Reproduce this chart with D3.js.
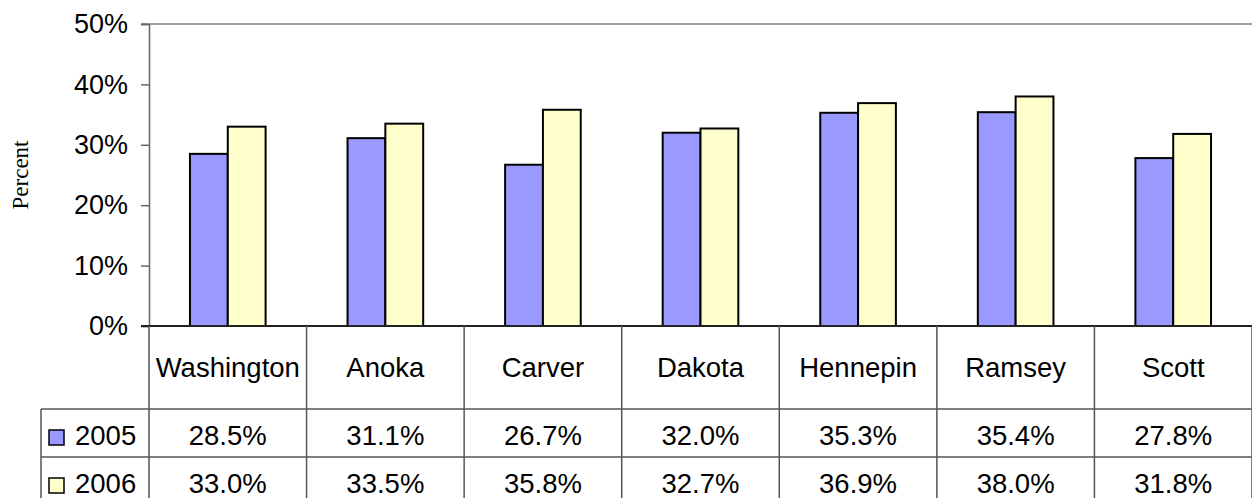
<!DOCTYPE html>
<html>
<head>
<meta charset="utf-8">
<script src="https://cdn.jsdelivr.net/npm/d3@7"></script>
<style>
  html, body { margin: 0; padding: 0; background: #fff; }
  svg { display: block; }
  text { font-family: "Liberation Sans", Arial, sans-serif; fill: #000; }
</style>
</head>
<body>
<div id="chart"></div>
<script>
// data
var categories = ['Washington', 'Anoka', 'Carver', 'Dakota', 'Hennepin', 'Ramsey', 'Scott'];
var seriesNames = ['2005', '2006'];
var values2005 = [28.5, 31.1, 26.7, 32.0, 35.3, 35.4, 27.8];
var values2006 = [33.0, 33.5, 35.8, 32.7, 36.9, 38.0, 31.8];
var yTicks = [0, 10, 20, 30, 40, 50];
var colors = ['#9999ff', '#ffffcc'];

var width = 1252,
  height = 498;
var plot = {left: 149, right: 1252, top: 24, bottom: 326};
var rowCat = 409, row1 = 457, legendLeft = 41;

var svg = d3
  .select('#chart')
  .append('svg')
  .attr('width', width)
  .attr('height', height);

var x = d3.scaleBand().domain(categories).range([plot.left, plot.right]);
var step = x.bandwidth();
var barW = step * 0.24;
var inner = d3
  .scaleBand()
  .domain(seriesNames)
  .range([step / 2 - barW, step / 2 + barW]);

var y = d3.scaleLinear().domain([0, 50]).range([plot.bottom, plot.top]);

// top border of plot area
svg
  .append('line')
  .attr('x1', plot.left - 8)
  .attr('x2', plot.right)
  .attr('y1', y(50))
  .attr('y2', y(50))
  .attr('stroke', '#808080')
  .attr('stroke-width', 1.5);

// y axis
var yAxis = d3
  .axisLeft(y)
  .tickValues(yTicks)
  .tickSize(8)
  .tickPadding(13)
  .tickFormat(function (d) {
    return d + '%';
  });

var yg = svg
  .append('g')
  .attr('transform', 'translate(' + plot.left + ',0)')
  .call(yAxis);
yg.select('.domain').attr('stroke', '#666').attr('stroke-width', 1.5);
yg.selectAll('.tick line').attr('stroke', '#666').attr('stroke-width', 1.5);
yg.selectAll('.tick text')
  .attr('font-size', '27px')
  .attr('font-family', '"Liberation Sans", Arial, sans-serif')
  .attr('fill', '#000');

// axis title
svg
  .append('text')
  .attr('transform', 'translate(28,' + (plot.top + plot.bottom) / 2 + ') rotate(-90)')
  .attr('text-anchor', 'middle')
  .style('font-family', '"Liberation Serif", "Times New Roman", serif')
  .attr('font-size', '23px')
  .text('Percent');

// bars
var rows = categories.map(function (c, i) {
  return {cat: c, vals: [values2005[i], values2006[i]]};
});

var groups = svg
  .selectAll('.grp')
  .data(rows)
  .enter()
  .append('g')
  .attr('class', 'grp')
  .attr('transform', function (d) {
    return 'translate(' + x(d.cat) + ',0)';
  });

groups
  .selectAll('rect')
  .data(function (d) {
    return d.vals.map(function (v, j) {
      return {s: seriesNames[j], v: v, j: j};
    });
  })
  .enter()
  .append('rect')
  .attr('x', function (d) {
    return inner(d.s);
  })
  .attr('width', inner.bandwidth())
  .attr('y', function (d) {
    return y(d.v);
  })
  .attr('height', function (d) {
    return y(0) - y(d.v);
  })
  .attr('fill', function (d) {
    return colors[d.j];
  })
  .attr('stroke', '#000')
  .attr('stroke-width', 2);

// x axis line
svg
  .append('line')
  .attr('x1', plot.left - 8)
  .attr('x2', plot.right)
  .attr('y1', y(0))
  .attr('y2', y(0))
  .attr('stroke', '#222')
  .attr('stroke-width', 2);

// data table
var grid = svg.append('g').attr('stroke', '#555').attr('stroke-width', 1.5);
var bounds = categories.map(function (c) {
  return x(c);
});
bounds.push(plot.right);
bounds.forEach(function (b) {
  grid
    .append('line')
    .attr('x1', b)
    .attr('x2', b)
    .attr('y1', plot.bottom)
    .attr('y2', height);
});
[rowCat, row1].forEach(function (r) {
  grid
    .append('line')
    .attr('x1', legendLeft)
    .attr('x2', plot.right)
    .attr('y1', r)
    .attr('y2', r);
});
grid
  .append('line')
  .attr('x1', legendLeft)
  .attr('x2', legendLeft)
  .attr('y1', rowCat)
  .attr('y2', height);

svg
  .selectAll('.cat')
  .data(categories)
  .enter()
  .append('text')
  .attr('class', 'cat')
  .attr('x', function (d) {
    return x(d) + step / 2;
  })
  .attr('y', plot.bottom + 51)
  .attr('text-anchor', 'middle')
  .attr('font-size', '27.5px')
  .text(function (d) {
    return d;
  });

var fmt = d3.format('.1f');
[values2005, values2006].forEach(function (vals, j) {
  var top = j === 0 ? rowCat : row1;
  svg
    .selectAll('.val' + j)
    .data(vals)
    .enter()
    .append('text')
    .attr('class', 'val' + j)
    .attr('x', function (d, i) {
      return x(categories[i]) + step / 2;
    })
    .attr('y', top + 36)
    .attr('text-anchor', 'middle')
    .attr('font-size', '27.5px')
    .text(function (d) {
      return fmt(d) + '%';
    });

  svg
    .append('rect')
    .attr('x', legendLeft + 8)
    .attr('y', top + 21)
    .attr('width', 15)
    .attr('height', 15)
    .attr('fill', colors[j])
    .attr('stroke', '#000')
    .attr('stroke-width', 1.5);

  svg
    .append('text')
    .attr('x', legendLeft + 34)
    .attr('y', top + 36)
    .attr('font-size', '27.5px')
    .text(seriesNames[j]);
});
</script>
</body>
</html>
